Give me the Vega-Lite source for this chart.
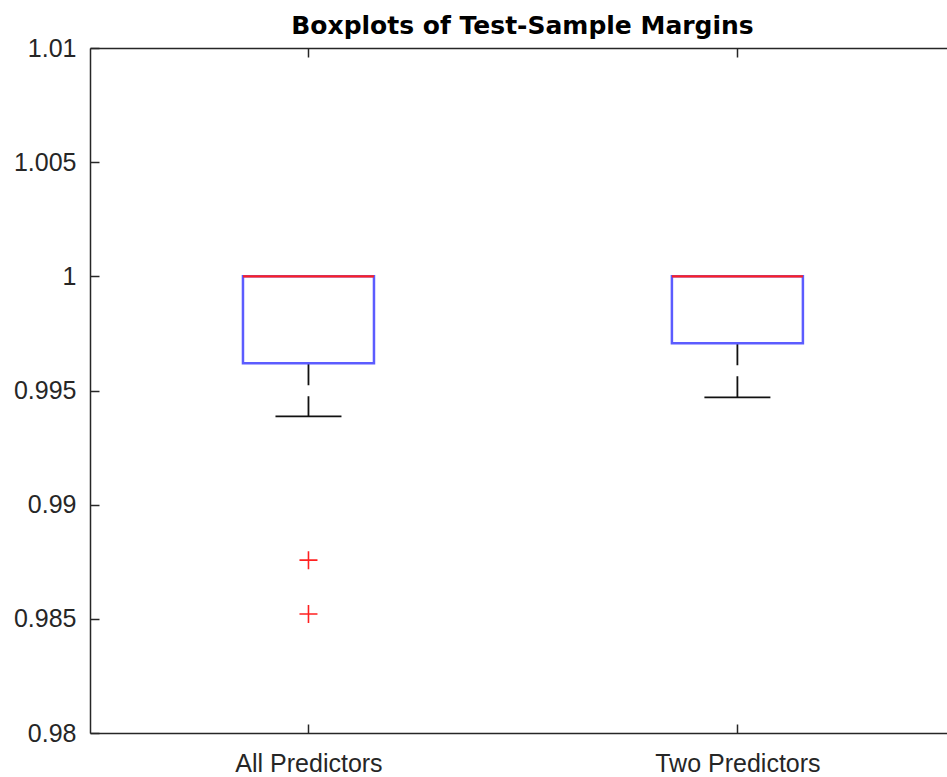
{
  "$schema": "https://vega.github.io/schema/vega-lite/v6.json",
  "width": 857,
  "height": 685,
  "autosize": {"type": "none"},
  "padding": {"left": 90, "top": 48, "right": 0, "bottom": 44},
  "background": "white",
  "config": {"view": {"stroke": null}},
  "title": {
    "text": "Boxplots of Test-Sample Margins",
    "font": "DejaVu Sans",
    "fontSize": 25,
    "fontWeight": "bold",
    "color": "#000000",
    "anchor": "middle",
    "baseline": "alphabetic",
    "offset": 15,
    "dx": 4,
    "dy": 38
  },
  "datasets": {
    "boxes": [
      {"group": 1, "label": "All Predictors", "lower": 0.99387, "q1": 0.99619, "median": 1.0, "q3": 1.0, "upper": 1.0},
      {"group": 2, "label": "Two Predictors", "lower": 0.99470, "q1": 0.99707, "median": 1.0, "q3": 1.0, "upper": 1.0}
    ],
    "outliers": [
      {"group": 1, "value": 0.98757},
      {"group": 1, "value": 0.98521}
    ]
  },
  "layer": [
    {
      "data": {"name": "boxes"},
      "mark": {"type": "rule", "color": "#111111", "strokeWidth": 1.8, "strokeDash": [22, 11]},
      "encoding": {
        "x": {
          "field": "group", "type": "quantitative",
          "scale": {"domain": [0.5023, 2.477], "nice": false, "zero": false},
          "axis": {
            "orient": "bottom", "values": [1, 2], "title": null, "grid": false,
            "labelExpr": "datum.value == 1 ? 'All Predictors' : 'Two Predictors'",
            "labelFont": "Liberation Sans", "labelFontSize": 25, "labelColor": "#262626",
            "labelPadding": 27, "tickSize": -9, "tickColor": "#262626", "tickWidth": 1.5,
            "domainColor": "#262626", "domainWidth": 1.5, "labelFlush": false, "labelOverlap": false
          }
        },
        "y": {
          "field": "q1", "type": "quantitative",
          "scale": {"domain": [0.98, 1.01], "nice": false, "zero": false},
          "axis": {
            "title": null, "grid": false,
            "values": [0.98, 0.985, 0.99, 0.995, 1.0, 1.005, 1.01],
            "format": "~g",
            "labelFont": "Liberation Sans", "labelFontSize": 25, "labelColor": "#262626",
            "labelPadding": 23, "tickSize": -9, "tickColor": "#262626", "tickWidth": 1.5,
            "domainColor": "#262626", "domainWidth": 1.5, "labelFlush": false, "labelOverlap": false
          }
        },
        "y2": {"field": "lower"}
      }
    },
    {
      "data": {"name": "boxes"},
      "mark": {"type": "tick", "orient": "horizontal", "color": "#111111", "size": 66, "thickness": 1.8, "opacity": 1},
      "encoding": {
        "x": {"field": "group", "type": "quantitative", "axis": null},
        "y": {"field": "lower", "type": "quantitative"}
      }
    },
    {
      "data": {"name": "boxes"},
      "mark": {"type": "bar", "size": 131, "fill": "transparent", "stroke": "#5c5cff", "strokeWidth": 2.5},
      "encoding": {
        "x": {"field": "group", "type": "quantitative", "axis": null},
        "y": {"field": "q1", "type": "quantitative"},
        "y2": {"field": "q3"}
      }
    },
    {
      "data": {"name": "boxes"},
      "mark": {"type": "tick", "orient": "horizontal", "color": "#ff2020", "size": 131, "thickness": 2.2, "opacity": 1},
      "encoding": {
        "x": {
          "field": "group", "type": "quantitative",
          "axis": {
            "orient": "top", "values": [1, 2], "title": null, "grid": false, "labels": false,
            "tickSize": -9, "tickColor": "#262626", "tickWidth": 1.5,
            "domainColor": "#262626", "domainWidth": 1.5
          }
        },
        "y": {"field": "median", "type": "quantitative"}
      }
    },
    {
      "data": {"name": "outliers"},
      "mark": {"type": "point", "shape": "M-1,0L1,0M0,-1L0,1", "size": 324, "filled": false, "color": "#ff2020", "strokeWidth": 1.6, "opacity": 1},
      "encoding": {
        "x": {"field": "group", "type": "quantitative", "axis": null},
        "y": {"field": "value", "type": "quantitative"}
      }
    }
  ],
  "resolve": {"axis": {"x": "independent"}}
}
